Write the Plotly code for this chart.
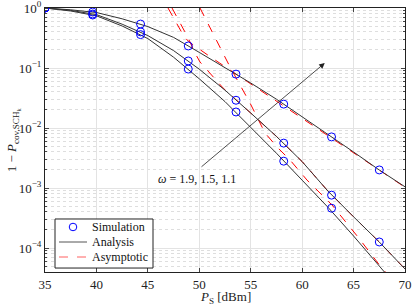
import plotly.graph_objects as go

# ---- data ----
ps_sim = [35.0, 39.64, 44.29, 48.93, 53.57, 58.21, 62.86, 67.5]
sim_w19 = [1.0, 0.857, 0.54, 0.233, 0.079, 0.025, 0.0071, 0.0020]
sim_w15 = [1.0, 0.794, 0.40, 0.131, 0.029, 0.0056, 0.00076, 0.000126]
sim_w11 = [1.0, 0.764, 0.36, 0.096, 0.0185, 0.0028, 0.00046, None]

ps_ana = [35, 37.5, 40, 42.5, 45, 47.5, 50, 52.5, 55, 57.5, 60, 62.5, 65, 67.5, 70]
ana_w19_log = [0, -0.03, -0.075, -0.18, -0.31, -0.49, -0.74, -0.99, -1.25, -1.52, -1.81, -2.11, -2.40, -2.70, -2.98]
ana_w15_log = [0, -0.04, -0.11, -0.27, -0.46, -0.71, -1.02, -1.37, -1.75, -2.14, -2.56, -3.05, -3.48, -3.90, -4.35]
ana_w11_log = [0, -0.05, -0.13, -0.30, -0.51, -0.82, -1.18, -1.56, -1.99, -2.42, -2.87, -3.32, -3.80, -4.30, -4.80]

ps_asy1 = [46.96, 47.5, 48, 48.5, 49, 49.5, 50, 51, 52, 53, 54, 55, 57.5, 60, 62.5, 65, 67.5, 70]
asy_w19_log = [0, -0.17, -0.33, -0.47, -0.565, -0.628, -0.69, -0.805, -0.92, -1.035, -1.15, -1.264,
               -1.552, -1.839, -2.126, -2.413, -2.70, -2.988]
ps_asy2 = [47.35, 48.12, 48.71, 49.10, 49.58, 50.07, 51.24, 52.31, 53.28, 55, 57.5, 60, 62.5, 65, 67.5, 70]
asy_w15_log = [0, -0.233, -0.433, -0.567, -0.75, -0.90, -1.117, -1.333, -1.483, -1.75, -2.14, -2.56,
               -3.05, -3.48, -3.90, -4.35]
ps_asy3 = [50.07, 51.53, 52.99, 54.93, 56.39, 57.56, 58.82, 60.47, 62.90, 65.43, 67.5, 70]
asy_w11_log = [0, -0.483, -0.983, -1.583, -2.083, -2.317, -2.533, -2.867, -3.283, -3.817, -4.28, -4.78]

y_tickvals = [1, 0.1, 0.01, 0.001, 0.0001]
y_ticktext = ["10<sup>0</sup>", "10<sup>−1</sup>", "10<sup>−2</sup>", "10<sup>−3</sup>", "10<sup>−4</sup>"]
x_tickvals = [35, 40, 45, 50, 55, 60, 65, 70]
legend_labels = ["Simulation", "Analysis", "Asymptotic"]

FONT = "Liberation Serif"
BLUE, GREY, RED = "#0000ff", "#333333", "#ff0000"
fig = go.Figure()

def pw(v):
    return [10 ** a for a in v]

for xs, ys in [(ps_asy1, asy_w19_log), (ps_asy2, asy_w15_log), (ps_asy3, asy_w11_log)]:
    fig.add_trace(go.Scatter(x=xs, y=pw(ys), mode="lines",
                             line=dict(color=RED, width=1, dash="dash"),
                             showlegend=False, hoverinfo="skip"))
for ys in [ana_w19_log, ana_w15_log, ana_w11_log]:
    fig.add_trace(go.Scatter(x=ps_ana, y=pw(ys), mode="lines",
                             line=dict(color=GREY, width=1),
                             showlegend=False, hoverinfo="skip"))
for ys in [sim_w19, sim_w15, sim_w11]:
    fig.add_trace(go.Scatter(x=ps_sim, y=ys, mode="markers",
                             marker=dict(symbol="circle-open", color=BLUE, size=8, line=dict(width=1)),
                             showlegend=False, hoverinfo="skip"))

# arrow + omega label
fig.add_annotation(x=62.2, y=-0.917, ax=50.07, ay=-2.667, xref="x", yref="y", axref="x", ayref="y",
                   showarrow=True, arrowhead=2, arrowsize=1.4, arrowwidth=0.8, arrowcolor="#222", text="")
fig.add_annotation(x=45.8, y=-2.85, xref="x", yref="y", xanchor="left", yanchor="middle",
                   text="<i>ω</i> = 1.9, 1.5, 1.1", showarrow=False,
                   font=dict(family=FONT, size=12, color="#111"))
# axis titles
fig.add_annotation(x=0.5, y=-0.095, xref="paper", yref="paper", xanchor="center", yanchor="middle",
                   text="<i>P</i><sub>S</sub> [dBm]", showarrow=False,
                   font=dict(family=FONT, size=13, color="#222"))
fig.add_annotation(x=-0.088, y=0.5, xref="paper", yref="paper", xanchor="center", yanchor="middle",
                   text="1 − <i>P</i><sub>cov,SCH<sub>k</sub></sub>", showarrow=False, textangle=-90,
                   font=dict(family=FONT, size=13, color="#222"))

# legend (drawn box, swatches and labels)
fig.add_shape(type="rect", xref="paper", yref="paper", x0=0.0278, x1=0.30, y0=0.015, y1=0.2008,
              line=dict(color="#222", width=1), fillcolor="white", layer="above")
rows = [0.1705, 0.1136, 0.0568]
fig.add_shape(type="circle", xref="paper", yref="paper", x0=0.0778 - 0.0105, x1=0.0778 + 0.0105,
              y0=rows[0] - 0.0143, y1=rows[0] + 0.0143, line=dict(color=BLUE, width=1), layer="above")
fig.add_shape(type="line", xref="paper", yref="paper", x0=0.0389, x1=0.1167, y0=rows[1], y1=rows[1],
              line=dict(color="#555", width=1), layer="above")
fig.add_shape(type="line", xref="paper", yref="paper", x0=0.0389, x1=0.1167, y0=rows[2], y1=rows[2],
              line=dict(color="#ff6060", width=1, dash="dash"), layer="above")
for lab, ry in zip(legend_labels, rows):
    fig.add_annotation(x=0.125, y=ry, xref="paper", yref="paper", xanchor="left", yanchor="middle",
                       text=lab, showarrow=False, font=dict(family=FONT, size=12, color="#111"))

fig.update_layout(
    width=415, height=306,
    margin=dict(l=45, r=10, t=8, b=34),
    paper_bgcolor="white", plot_bgcolor="white",
    font=dict(family=FONT, size=13, color="#222"),
    showlegend=False,
    xaxis=dict(range=[35, 70], tickvals=x_tickvals, ticks="inside", ticklen=4, automargin=False,
               showgrid=True, gridcolor="#e3e3e3", gridwidth=1, ticklabeloverflow="allow",
               showline=True, linecolor="#222", mirror="ticks", zeroline=False,
               tickfont=dict(size=13)),
    yaxis=dict(type="log", range=[-4.4, 0], tickvals=y_tickvals, ticktext=y_ticktext, automargin=False,
               ticks="inside", ticklen=4, showgrid=True, gridcolor="#e3e3e3", ticklabeloverflow="allow",
               showline=True, linecolor="#222", mirror="ticks", zeroline=False,
               tickfont=dict(size=13),
               minor=dict(dtick="D1", ticks="inside", ticklen=2,
                          showgrid=True, gridcolor="#dedede", griddash="dot", gridwidth=1)),
)
fig.write_html("out.html", config={"displayModeBar": False},
               post_script="document.body.style.margin='0';document.body.style.padding='0';")
